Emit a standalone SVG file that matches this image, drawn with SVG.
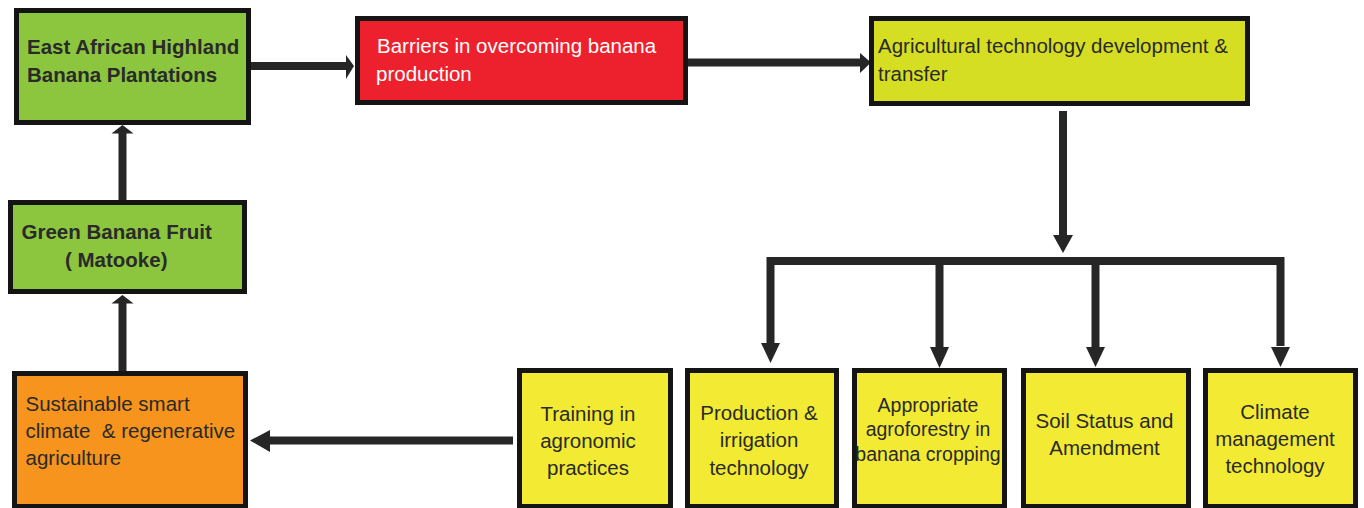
<svg xmlns="http://www.w3.org/2000/svg" width="1364" height="508" viewBox="0 0 1364 508">
<style>
.box{stroke:#141414;stroke-width:5}
.green{fill:#8cc63f}
.red{fill:#ed212d}
.lime{fill:#d6de24}
.yellow{fill:#f3ea33}
.orange{fill:#f7941e}
text{font-family:"Liberation Sans",Arial,sans-serif;font-size:20.5px;fill:#2a2a2a}
.b{font-weight:bold}
.w{fill:#ffffff}
.c{text-anchor:middle}
.ln{stroke:#262626;stroke-width:8;fill:none}
.hd{fill:#262626}
</style>
<g id="connectors">
<line class="ln" x1="251" y1="66" x2="348" y2="66"/>
<polygon class="hd" points="346,55 354,66 346,79"/>
<line class="ln" x1="688" y1="62.5" x2="862" y2="62.5"/>
<polygon class="hd" points="860,53 871,62.5 860,73"/>
<line class="ln" x1="1063" y1="111" x2="1063" y2="238"/>
<polygon class="hd" points="1053,235 1073,235 1063,253"/>
<path class="ln" d="M770.5,346 V261 H1280.5 V346"/>
<line class="ln" x1="939.5" y1="261" x2="939.5" y2="350"/>
<line class="ln" x1="1095.5" y1="261" x2="1095.5" y2="350"/>
<polygon class="hd" points="761,343 780,343 770.5,363"/>
<polygon class="hd" points="930,347 949,347 939.5,368"/>
<polygon class="hd" points="1086,347 1105,347 1095.5,367"/>
<polygon class="hd" points="1271,347 1290,347 1280.5,367"/>
<line class="ln" x1="513" y1="440.5" x2="266" y2="440.5"/>
<polygon class="hd" points="270,430 250,440.5 270,452"/>
<line class="ln" x1="122.5" y1="371" x2="122.5" y2="301"/>
<polygon class="hd" points="111.5,303.5 133.5,303.5 122.5,295"/>
<line class="ln" x1="122.5" y1="200" x2="122.5" y2="131"/>
<polygon class="hd" points="111.5,133.5 133.5,133.5 122.5,125"/>
</g>
<g id="n-east-african">
<rect class="box green" x="16.5" y="10.5" width="232" height="112"/>
<text class="b" x="27" y="54">East African Highland</text>
<text class="b" x="27" y="82">Banana Plantations</text>
</g>
<g id="n-barriers">
<rect class="box red" x="357.5" y="18.5" width="328" height="84"/>
<text class="w" x="377" y="53"> Barriers in overcoming banana</text>
<text class="w" x="376" y="81">production</text>
</g>
<g id="n-agri-tech">
<rect class="box lime" x="871.5" y="18.5" width="376" height="85"/>
<text x="878" y="53">Agricultural technology development &amp;</text>
<text x="878" y="81">transfer</text>
</g>
<g id="n-green-banana">
<rect class="box green" x="10.5" y="202.5" width="234" height="89"/>
<text class="b" x="21.5" y="239">Green Banana Fruit</text>
<text class="b" x="65" y="267">( Matooke)</text>
</g>
<g id="n-sustainable">
<rect class="box orange" x="14.5" y="373.5" width="231" height="133"/>
<text x="25.5" y="411">Sustainable smart</text>
<text x="25.5" y="438" xml:space="preserve">climate  &amp; regenerative</text>
<text x="25.5" y="465">agriculture</text>
</g>
<g id="n-training">
<rect class="box yellow" x="519.5" y="370.5" width="151" height="136"/>
<text class="c" x="588" y="421">Training in</text>
<text class="c" x="588" y="448">agronomic</text>
<text class="c" x="588" y="475">practices</text>
</g>
<g id="n-production">
<rect class="box yellow" x="687.5" y="370.5" width="149" height="136"/>
<text class="c" x="759" y="420">Production &amp;</text>
<text class="c" x="759" y="447">irrigation</text>
<text class="c" x="759" y="475">technology</text>
</g>
<g id="n-agroforestry">
<rect class="box yellow" x="854.5" y="370.5" width="150" height="136"/>
<text class="c" x="928" y="411.5" style="font-size:19.5px">Appropriate</text>
<text class="c" x="928" y="436" style="font-size:19.5px">agroforestry in</text>
<text class="c" x="928" y="460.5" style="font-size:19.5px">banana cropping</text>
</g>
<g id="n-soil">
<rect class="box yellow" x="1023.5" y="370.5" width="165" height="136"/>
<text class="c" x="1104.5" y="428">Soil Status and</text>
<text class="c" x="1104.5" y="455">Amendment</text>
</g>
<g id="n-climate">
<rect class="box yellow" x="1205.5" y="370.5" width="150" height="136"/>
<text class="c" x="1275" y="419">Climate</text>
<text class="c" x="1275" y="446">management</text>
<text class="c" x="1275" y="473">technology</text>
</g>
</svg>
